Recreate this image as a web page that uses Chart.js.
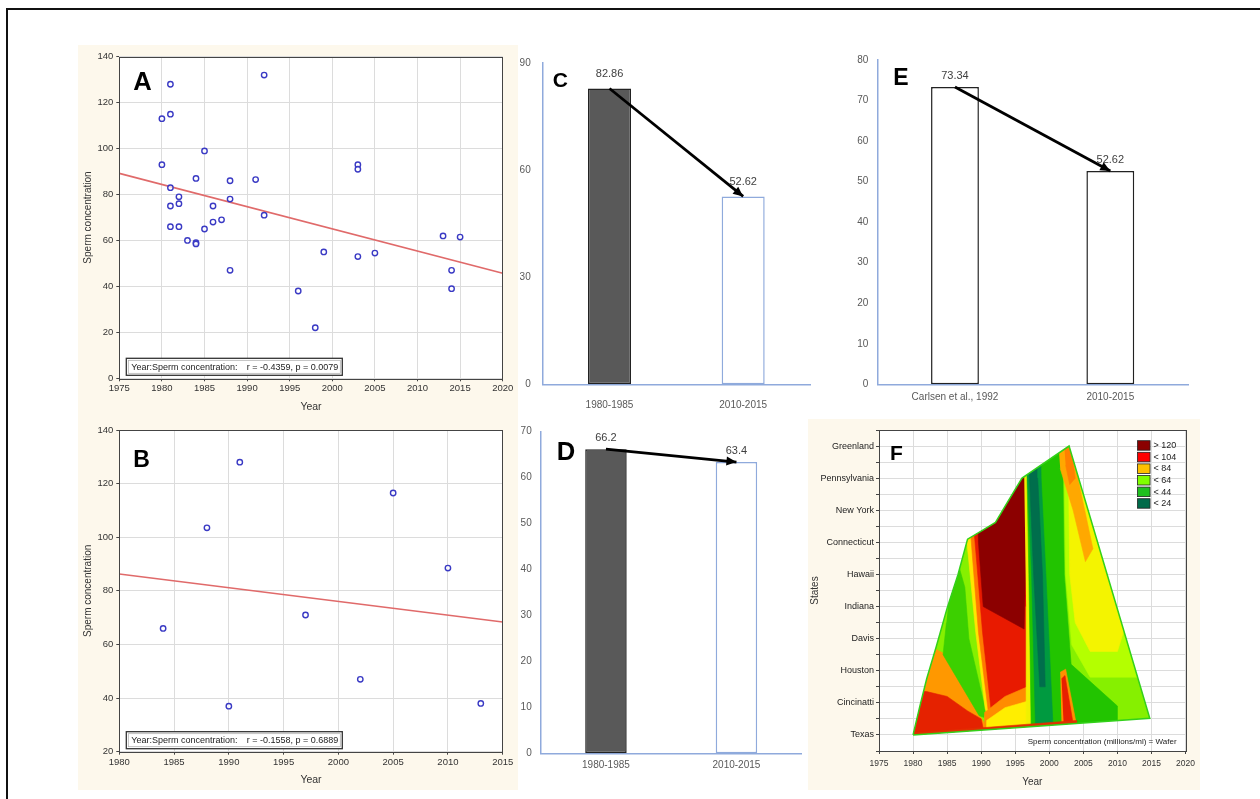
<!DOCTYPE html>
<html>
<head>
<meta charset="utf-8">
<script src="https://cdn.jsdelivr.net/npm/chart.js@4.4.1/dist/chart.umd.min.js"></script>
<style>
html, body { margin: 0; padding: 0; background: #fff; }
body { width: 1260px; height: 799px; position: relative; overflow: hidden; }
.frame { position: absolute; left: 6px; top: 8px; width: 1400px; height: 900px; border-left: 2px solid #111; border-top: 2px solid #111; }
.cream { position: absolute; background: #fdf8ec; }
canvas { position: absolute; }
</style>
</head>
<body>
<div class="frame"></div>
<div class="cream" style="left:78px;top:45px;width:440px;height:745px"></div>
<div class="cream" style="left:808px;top:419px;width:392px;height:371px"></div>
<canvas id="chartA" width="440" height="370" style="left:78px;top:45px"></canvas>
<canvas id="chartB" width="440" height="375" style="left:78px;top:415px"></canvas>
<canvas id="chartC" width="292" height="370" style="left:520px;top:45px"></canvas>
<canvas id="chartD" width="290" height="375" style="left:520px;top:415px"></canvas>
<canvas id="chartE" width="370" height="370" style="left:830px;top:45px"></canvas>
<canvas id="chartF" width="392" height="371" style="left:808px;top:419px"></canvas>
<script>
const SANS = '"Liberation Sans", Arial, sans-serif';
Chart.defaults.font.family = SANS;
Chart.defaults.color = '#333';

// A: sperm concentration by study year
const yearsA = [1980, 1980, 1981, 1981, 1981, 1981, 1981, 1982, 1982, 1982, 1983, 1984, 1984, 1984,
  1985, 1985, 1986, 1986, 1987, 1988, 1988, 1988, 1991, 1992, 1992, 1996, 1998, 1999,
  2003, 2003, 2003, 2005, 2013, 2014, 2014, 2015];
const concA = [113, 93, 128, 115, 83, 75, 66, 79, 76, 66, 60, 87, 59, 58.5,
  99, 65, 75, 68, 69, 86, 78, 47, 86.5, 132, 71, 38, 22, 55,
  93, 91, 53, 54.5, 62, 47, 39, 61.5];
const fitYearsA = [1975, 2020];
const fitConcA = [89.2, 45.7];
const statA = 'r = -0.4359, p = 0.0079';

// B
const yearsB = [1984, 1988, 1990, 1991, 1997, 2002, 2005, 2010, 2013];
const concB = [66, 103.5, 37, 128, 71, 47, 116.5, 88.5, 38];
const fitYearsB = [1980, 2015];
const fitConcB = [86.3, 68.4];
const statB = 'r = -0.1558, p = 0.6889';

// C, D, E: period means
const periodsCD = ['1980-1985', '2010-2015'];
const meansC = [82.86, 52.62];
const meansD = [66.2, 63.4];
const periodsE = ['Carlsen et al., 1992', '2010-2015'];
const meansE = [73.34, 52.62];

// F: contour map, states vs year (polygons in [year, state index])
const statesF = ['Texas', 'Cincinatti', 'Houston', 'Davis', 'Indiana', 'Hawaii',
  'Connecticut', 'New York', 'Pennsylvania', 'Greenland'];
const hullF = [[1980, 0], [1981, 0.9], [1982, 1.75], [1983.4, 2.75], [1985, 3.95], [1986.6, 5], [1988, 6.1],
  [1990, 6.35], [1992.1, 6.62], [1994, 7.3], [1996, 8.0], [2002.9, 9.0], [2014.75, 0.52], [1980, 0]];
const leftOrangeF = [[1978, -0.5], [1978, 2.8], [1981.3, 2.9], [1984.4, 2.55], [1989.7, 0.62], [1991, 0.2], [1991, -0.5]];
const leftRedF = [[1978, -0.5], [1978, 1.4], [1982, 1.35], [1985, 1.2], [1988, 0.75], [1990, 0.5], [1991, -0.5]];
const leftGreenF = [[1985.2, 4.2], [1986.8, 5.2], [1987.6, 4.6], [1988.2, 3.0], [1990.6, 0.8], [1990.4, 0.55],
  [1989.7, 0.6], [1984.4, 2.5], [1984.9, 3.5]];
const midYellowF = [[1987.4, 7], [1988.1, 5.6], [1989.2, 3.2], [1990.6, 0.8], [1991.8, 0.3], [1990.8, 3], [1989.6, 5.5], [1989, 7]];
const midOrangeF = [[1988.2, 7], [1988.7, 5.6], [1989.6, 3.2], [1991, 0.8], [1992.2, 0.3], [1991.2, 3], [1990, 5.5], [1989.4, 7]];
const redF = [[1988.9, 8], [1988.9, 6.5], [1989.3, 5.5], [1990.2, 3.2], [1991.5, 0.7], [1993.5, 1.0], [1996.7, 1.4],
  [1996.8, 5], [1996.6, 8.5]];
const darkRedF = [[1989.4, 8], [1989.6, 6], [1990.3, 4.0], [1996.3, 3.3], [1996.5, 5], [1996.4, 8.5]];
const bottomOrangeF = [[1990.5, -0.5], [1990.5, 0.7], [1993.5, 1.2], [1996.8, 1.5], [1996.8, -0.5]];
const bottomYellowF = [[1990.8, -0.5], [1990.8, 0.45], [1993.5, 0.85], [1996.8, 1.05], [1996.8, -0.5]];
const postYellowF = [[1996.3, 8.3], [1996.8, 8.3], [1997.1, 4], [1997.3, -0.5], [1996.6, -0.5], [1996.6, 4]];
const greenF = [[1996.6, 9.5], [1997, 5], [1997.4, -0.5], [2010, -0.5], [2010, 0.9], [2003.2, 2.2], [2002.2, 5], [2001.9, 9.5]];
const darkGreenF = [[1996.6, 9.5], [1996.8, 8], [1997.4, 5], [1998, 0], [1998, -0.5], [2000.6, -0.5], [2000.5, 0.5],
  [1999.5, 5], [1998.8, 8], [1998.7, 9.5]];
const tealF = [[1997, 9.5], [1997.1, 8], [1997.7, 5], [1998.6, 1.5], [1999.4, 1.5], [1999, 5], [1998.3, 8], [1998.2, 9.5]];
const lightRightF = [[2001.4, 9.5], [2002.2, 8.5], [2002.4, 5], [2003.3, 2.8], [2006, 1.8], [2013, 1.8], [2020, 9.5]];
const yellowRightF = [[2002, 9.5], [2002.8, 8.5], [2003, 5], [2003.8, 3.5], [2006, 2.6], [2010, 2.6], [2020, 9.5]];
const orangeTopF = [[2001.4, 8.9], [2003, 9.2], [2006.4, 5.8], [2005.3, 5.4], [2003.5, 7], [2001.6, 8.3]];
const orangeTop2F = [[2002.2, 9], [2003.2, 9], [2003.8, 8.0], [2003, 7.8], [2002.4, 8.4]];
const spikeOrangeF = [[2001.6, 1.95], [2002.4, 2.05], [2004, 0.3], [2001.8, 0.3]];
const spikeRedF = [[2001.8, 1.75], [2002.3, 1.85], [2003.5, 0.35], [2002.1, 0.35]];
const sliverF = [[1980, -0.5], [1980, 0.06], [2004, 0.45], [2004, -0.5]];

const layersF = [hullF, leftOrangeF, leftRedF, leftGreenF, midYellowF, midOrangeF, redF, darkRedF,
  bottomOrangeF, bottomYellowF, postYellowF, greenF, darkGreenF, tealF, lightRightF, yellowRightF,
  orangeTopF, orangeTop2F, spikeOrangeF, spikeRedF, sliverF];
const layerColorsF = ['#86f000', '#ff9800', '#e52200', '#3cd000', '#ffe600', '#ff7a00', '#e81a00', '#8c0000',
  '#ff8c00', '#ffee00', '#f0f000', '#22c400', '#009a40', '#006e4c', '#b4ff00', '#f4f400',
  '#ffa800', '#ff8000', '#ff9000', '#e82000', '#e03000'];
const legendLabelsF = ['> 120', '< 104', '< 84', '< 64', '< 44', '< 24'];
const legendColorsF = ['#8b0000', '#ff0000', '#ffc000', '#80ff00', '#1fbf1f', '#006b4a'];

// plugins
const plotBack = {
  id: 'plotBack',
  beforeDraw(chart, args, o) {
    if (!o.color) return;
    const { ctx, chartArea: a } = chart;
    ctx.save();
    ctx.fillStyle = o.color;
    ctx.fillRect(a.left, a.top, a.width, a.height);
    ctx.restore();
  },
  afterDraw(chart, args, o) {
    if (!o.border) return;
    const { ctx, chartArea: a } = chart;
    ctx.save();
    ctx.strokeStyle = o.border;
    ctx.lineWidth = 1;
    ctx.strokeRect(Math.round(a.left) + 0.5, Math.round(a.top) + 0.5, Math.round(a.width), Math.round(a.height));
    ctx.restore();
  }
};

const panelLetter = {
  id: 'panelLetter',
  afterDraw(chart, args, o) {
    if (!o.text) return;
    const { ctx, chartArea: a } = chart;
    ctx.save();
    ctx.font = 'bold ' + o.size + 'px ' + SANS;
    ctx.fillStyle = '#000';
    ctx.fillText(o.text, a.left + o.dx, a.top + o.dy);
    ctx.restore();
  }
};

const statBox = {
  id: 'statBox',
  afterDraw(chart, args, o) {
    if (!o.value) return;
    const { ctx, chartArea: a } = chart;
    const w = 216, h = 17;
    const x = a.left + 7, y = a.bottom - 3 - h;
    ctx.save();
    ctx.fillStyle = '#fff';
    ctx.fillRect(x, y, w, h);
    ctx.strokeStyle = '#333';
    ctx.lineWidth = 1.3;
    ctx.strokeRect(x, y, w, h);
    ctx.strokeStyle = '#aaa';
    ctx.lineWidth = 0.7;
    ctx.strokeRect(x + 2, y + 2, w - 4, h - 4);
    ctx.fillStyle = '#222';
    ctx.font = '9px ' + SANS;
    ctx.textBaseline = 'middle';
    ctx.fillText('Year:Sperm concentration:', x + 5, y + h / 2 + 0.5);
    ctx.textAlign = 'right';
    ctx.fillText(o.value, x + w - 4, y + h / 2 + 0.5);
    ctx.restore();
  }
};

const trendArrow = {
  id: 'trendArrow',
  afterDatasetsDraw(chart) {
    const meta = chart.getDatasetMeta(0);
    if (meta.type !== 'line' || meta.data.length < 2) return;
    const p1 = meta.data[0], p2 = meta.data[1];
    const ang = Math.atan2(p2.y - p1.y, p2.x - p1.x);
    const len = 10, half = 4.5;
    const c = Math.cos(ang), s = Math.sin(ang);
    const ctx = chart.ctx;
    ctx.save();
    ctx.fillStyle = '#000';
    ctx.beginPath();
    ctx.moveTo(p2.x, p2.y);
    ctx.lineTo(p2.x - len * c + half * s, p2.y - len * s - half * c);
    ctx.lineTo(p2.x - len * c - half * s, p2.y - len * s + half * c);
    ctx.closePath();
    ctx.fill();
    ctx.restore();
  }
};

const valueLabels = {
  id: 'valueLabels',
  afterDatasetsDraw(chart, args, o) {
    const ds = chart.data.datasets[1];
    const meta = chart.getDatasetMeta(1);
    const ctx = chart.ctx;
    ctx.save();
    ctx.font = '11px ' + SANS;
    ctx.fillStyle = '#404040';
    ctx.textAlign = 'center';
    ctx.textBaseline = 'bottom';
    meta.data.forEach((bar, i) => ctx.fillText(String(ds.data[i]), bar.x, bar.y - (o.gap || 6)));
    ctx.restore();
  }
};

const hullClip = {
  id: 'hullClip',
  beforeDatasetsDraw(chart) {
    const { ctx, scales: { x, y } } = chart;
    ctx.save();
    ctx.beginPath();
    hullF.forEach(([a, b], i) => {
      const px = x.getPixelForValue(a), py = y.getPixelForValue(b);
      if (i) ctx.lineTo(px, py); else ctx.moveTo(px, py);
    });
    ctx.closePath();
    ctx.clip();
  },
  afterDatasetsDraw(chart) {
    const { ctx, scales: { x, y } } = chart;
    ctx.restore();
    ctx.save();
    ctx.strokeStyle = '#33d11a';
    ctx.lineWidth = 1.5;
    ctx.beginPath();
    hullF.forEach(([a, b], i) => {
      const px = x.getPixelForValue(a), py = y.getPixelForValue(b);
      if (i) ctx.lineTo(px, py); else ctx.moveTo(px, py);
    });
    ctx.stroke();
    ctx.restore();
  }
};

const heatLegend = {
  id: 'heatLegend',
  afterDraw(chart, args, o) {
    if (!o.labels) return;
    const { ctx, chartArea: a } = chart;
    const x = a.right - 48, y0 = a.top + 10.7;
    ctx.save();
    ctx.font = '9px ' + SANS;
    ctx.textBaseline = 'middle';
    o.labels.forEach((t, i) => {
      const yy = y0 + i * 11.6;
      ctx.fillStyle = o.colors[i];
      ctx.fillRect(x, yy, 12.5, 9.5);
      ctx.strokeStyle = '#222';
      ctx.lineWidth = 0.8;
      ctx.strokeRect(x, yy, 12.5, 9.5);
      ctx.fillStyle = '#222';
      ctx.fillText(t, x + 16, yy + 5);
    });
    ctx.textAlign = 'right';
    ctx.textBaseline = 'alphabetic';
    ctx.font = '8px ' + SANS;
    ctx.fillText(o.caption, a.right - 9, a.bottom - 7);
    ctx.restore();
  }
};

function scatterChart(id, xs, ys, fx, fy, st) {
  const pts = xs.map((x, i) => ({ x, y: ys[i] }));
  const fit = fx.map((x, i) => ({ x, y: fy[i] }));
  return new Chart(document.getElementById(id), {
    type: 'scatter',
    data: {
      datasets: [
        { data: pts, pointRadius: 2.7, pointBorderWidth: 1.4, pointBorderColor: '#3a3ac4',
          pointBackgroundColor: 'rgba(255,255,255,0.7)', order: 0 },
        { data: fit, showLine: true, borderColor: '#e06a6a', borderWidth: 1.6, pointRadius: 0, order: 1 }
      ]
    },
    options: {
      responsive: false,
      animation: false,
      layout: { padding: { top: st.padTop, right: st.padRight, left: 0, bottom: 0 } },
      plugins: {
        legend: { display: false },
        tooltip: { enabled: false },
        plotBack: { color: '#fff', border: '#444' },
        panelLetter: st.letter,
        statBox: { value: st.stat }
      },
      scales: {
        x: {
          type: 'linear', min: st.xMin, max: st.xMax,
          ticks: { stepSize: 5, autoSkip: false, maxRotation: 0, color: '#333', font: { size: 9.5 }, padding: 1.5,
            callback: v => String(v) },
          grid: { color: '#dcdcdc', tickLength: 3, tickColor: '#444' },
          border: { display: false },
          title: { display: true, text: 'Year', color: '#333', font: { size: 10.5 }, padding: { top: 2, bottom: st.titlePad } },
          afterFit: s => { s.height = st.xH; }
        },
        y: {
          min: st.yMin, max: st.yMax,
          ticks: { stepSize: 20, color: '#333', font: { size: 9.5 }, padding: 3, callback: v => String(v) },
          grid: { color: '#dcdcdc', tickLength: 3, tickColor: '#444' },
          border: { display: false },
          title: { display: true, text: 'Sperm concentration', color: '#333', font: { size: 10 }, padding: { top: 4, bottom: 0 } },
          afterFit: s => { s.width = st.yW; }
        }
      }
    },
    plugins: [plotBack, panelLetter, statBox]
  });
}

function barChart(id, labels, values, st) {
  return new Chart(document.getElementById(id), {
    type: 'bar',
    data: {
      labels: labels,
      datasets: [
        { type: 'line', data: values, borderColor: '#000', borderWidth: 2.8, pointRadius: 0, fill: false, order: 0 },
        { type: 'bar', data: values, backgroundColor: st.fills, borderColor: st.borders, borderWidth: 1.5,
          borderSkipped: false, barPercentage: st.barPct, categoryPercentage: 1, order: 1 }
      ]
    },
    options: {
      responsive: false,
      animation: false,
      layout: { padding: { top: st.padTop, right: st.padRight, left: 0, bottom: 0 } },
      plugins: {
        legend: { display: false },
        tooltip: { enabled: false },
        panelLetter: st.letter,
        valueLabels: { gap: st.gap }
      },
      scales: {
        x: {
          grid: { display: false, drawTicks: false },
          border: { color: '#8faadc', width: 1.5 },
          ticks: { font: { size: 10 }, color: '#595959', padding: st.xPad, maxRotation: 0 },
          afterFit: s => { s.height = st.xH; }
        },
        y: {
          min: 0, max: st.max,
          grid: { display: false, drawTicks: false },
          border: { color: '#8faadc', width: 1.5 },
          ticks: { stepSize: st.step, font: { size: 10 }, color: '#595959', padding: st.yPad },
          afterFit: s => { s.width = st.yW; }
        }
      }
    },
    plugins: [trendArrow, valueLabels, panelLetter]
  });
}

scatterChart('chartA', yearsA, concA, fitYearsA, fitConcA, {
  padTop: 11.7, padRight: 15.3, yW: 41.3, xH: 36.7, titlePad: 1.7,
  xMin: 1975, xMax: 2020, yMin: 0, yMax: 140, stat: statA,
  letter: { text: 'A', size: 25.6, dx: 14, dy: 33 }
});

scatterChart('chartB', yearsB, concB, fitYearsB, fitConcB, {
  padTop: 15, padRight: 15.3, yW: 41.3, xH: 38.3, titlePad: 3.7,
  xMin: 1980, xMax: 2015, yMin: 20, yMax: 140, stat: statB,
  letter: { text: 'B', size: 23, dx: 14, dy: 37 }
});

barChart('chartC', periodsCD, meansC, {
  padTop: 16, padRight: 2, yW: 22.7, xH: 30.7, max: 90, step: 30, barPct: 0.322, xPad: 14.7, yPad: 12, gap: 9,
  fills: ['#595959', '#ffffff'], borders: ['#222', '#8faadc'],
  letter: { text: 'C', size: 21, dx: 10, dy: 24 }
});

barChart('chartD', periodsCD, meansD, {
  padTop: 16.7, padRight: 8.3, yW: 20.7, xH: 36.7, max: 70, step: 10, barPct: 0.318, xPad: 5.7, yPad: 9, gap: 6,
  fills: ['#595959', '#ffffff'], borders: ['#222', '#8faadc'],
  letter: { text: 'D', size: 25.6, dx: 16, dy: 28 }
});

barChart('chartE', periodsE, meansE, {
  padTop: 15, padRight: 12, yW: 47.3, xH: 30.7, max: 80, step: 10, barPct: 0.308, xPad: 7.4, yPad: 9, gap: 6,
  fills: ['#ffffff', '#ffffff'], borders: ['#222', '#222'],
  letter: { text: 'E', size: 23, dx: 16, dy: 25 }
});

new Chart(document.getElementById('chartF'), {
  type: 'scatter',
  data: {
    datasets: layersF.map((poly, i) => ({
      data: poly.map(([x, y]) => ({ x, y })),
      showLine: true,
      fill: 'shape',
      backgroundColor: layerColorsF[i],
      borderColor: layerColorsF[i],
      borderWidth: 0.6,
      pointRadius: 0,
      order: layersF.length - i
    }))
  },
  options: {
    responsive: false,
    animation: false,
    layout: { padding: { top: 11, right: 12.3, left: 0, bottom: 0 } },
    plugins: {
      legend: { display: false },
      tooltip: { enabled: false },
      plotBack: { color: '#fff', border: '#444' },
      panelLetter: { text: 'F', size: 21, dx: 11, dy: 30 },
      heatLegend: { labels: legendLabelsF, colors: legendColorsF, caption: 'Sperm concentration (millions/ml) = Wafer' }
    },
    scales: {
      x: {
        type: 'linear', min: 1975, max: 2020,
        ticks: { stepSize: 5, autoSkip: false, maxRotation: 0, color: '#333', font: { size: 8.5 }, padding: 5,
          callback: v => String(v) },
        grid: { color: '#dcdcdc', tickLength: 3, tickColor: '#444' },
        border: { display: false },
        title: { display: true, text: 'Year', color: '#333', font: { size: 10 }, padding: { top: 2, bottom: 2 } },
        afterFit: s => { s.height = 39; }
      },
      y: {
        type: 'linear', min: -0.5, max: 9.5,
        ticks: { stepSize: 0.5, autoSkip: false, color: '#222', font: { size: 9 }, padding: 2,
          callback: v => (Number.isInteger(v) ? statesF[v] : '') },
        grid: { color: '#dcdcdc', tickLength: 3, tickColor: '#444' },
        border: { display: false },
        title: { display: true, text: 'States', color: '#333', font: { size: 10 }, padding: { top: 1, bottom: 0 } },
        afterFit: s => { s.width = 71; }
      }
    }
  },
  plugins: [plotBack, hullClip, heatLegend, panelLetter]
});
</script>
</body>
</html>
